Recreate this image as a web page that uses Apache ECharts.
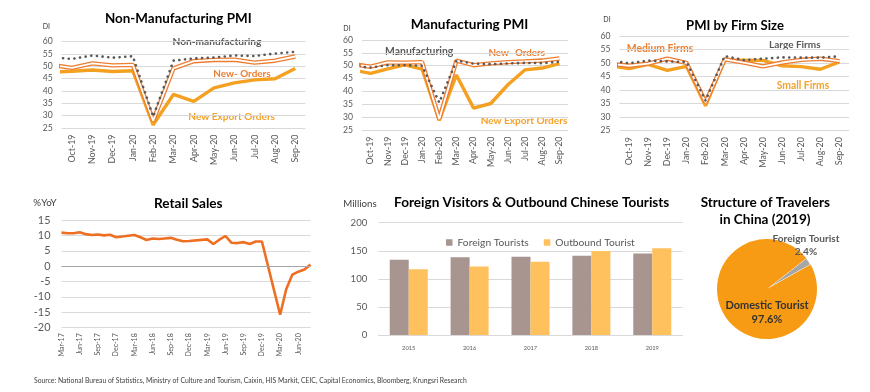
<!DOCTYPE html>
<html><head><meta charset="utf-8">
<script src="https://cdn.jsdelivr.net/npm/echarts@6/dist/echarts.min.js"></script>
<style>html,body{margin:0;padding:0;background:#fff}#c{width:870px;height:392px}</style>
</head><body><div id="c"></div>
<script>
// ---------- DATA ----------
// PMI panels: first entry (Sep-19) lies left of the plot edge and is clipped
const pmiMonths = ['Sep-19','Oct-19','Nov-19','Dec-19','Jan-20','Feb-20','Mar-20','Apr-20','May-20','Jun-20','Jul-20','Aug-20','Sep-20'];
const nmPMI       = [53.7, 53.0, 54.4, 53.5, 54.1, 29.6, 52.3, 53.2, 53.6, 54.4, 54.2, 55.2, 55.9];
const nmNewOrders = [50.6, 49.4, 51.2, 50.4, 50.6, 28.0, 49.2, 52.1, 52.6, 52.7, 51.5, 52.3, 54.0];
const nmExport    = [47.7, 48.0, 48.5, 47.9, 48.2, 26.3, 38.6, 35.8, 41.3, 43.3, 44.5, 45.0, 49.1];
const mPMI        = [49.8, 49.3, 50.2, 50.2, 50.0, 35.7, 52.0, 50.8, 50.6, 50.9, 51.1, 51.0, 51.5];
const mNewOrders  = [50.6, 49.6, 51.3, 51.2, 51.4, 29.3, 52.0, 50.2, 50.9, 51.4, 51.7, 52.0, 52.8];
const mExport     = [48.3, 47.0, 48.8, 50.3, 48.7, 28.7, 46.4, 33.5, 35.3, 42.6, 48.4, 49.1, 50.8];
const largeFirms  = [51.0, 49.9, 50.9, 50.6, 50.4, 36.1, 52.6, 51.1, 51.6, 52.1, 52.0, 52.0, 52.5];
const mediumFirms = [49.7, 49.0, 49.8, 51.6, 50.1, 35.5, 51.4, 50.2, 48.8, 50.2, 51.2, 51.6, 50.7];
const smallFirms  = [49.0, 48.0, 49.5, 47.3, 48.8, 34.2, 51.0, 51.1, 51.0, 49.0, 48.7, 47.7, 50.4];
const pmiTicks = [25, 30, 35, 40, 45, 50, 55, 60];

const retailMonths = ['Mar-17','Apr-17','May-17','Jun-17','Jul-17','Aug-17','Sep-17','Oct-17','Nov-17','Dec-17',
  'Jan-18','Feb-18','Mar-18','Apr-18','May-18','Jun-18','Jul-18','Aug-18','Sep-18','Oct-18','Nov-18','Dec-18',
  'Jan-19','Feb-19','Mar-19','Apr-19','May-19','Jun-19','Jul-19','Aug-19','Sep-19','Oct-19','Nov-19','Dec-19',
  'Jan-20','Feb-20','Mar-20','Apr-20','May-20','Jun-20','Jul-20','Aug-20'];
const retailSales = [10.9, 10.7, 10.7, 11.0, 10.4, 10.1, 10.3, 10.0, 10.2, 9.4,
  null, null, 10.1, 9.4, 8.5, 9.0, 8.8, 9.0, 9.2, 8.6, 8.1, 8.2,
  null, null, 8.7, 7.2, 8.6, 9.8, 7.6, 7.5, 7.8, 7.2, 8.0, 8.0,
  null, null, -15.8, -7.5, -2.8, -1.8, -1.1, 0.5];

const years = ['2015','2016','2017','2018','2019'];
const foreignTourists = [133.8, 138.4, 139.5, 141.2, 145.3];
const outboundTourists = [117.0, 122.0, 130.5, 149.7, 154.6];

const travelerNames = ['Foreign Tourist', 'Domestic Tourist'];
const travelerShares = [2.4, 97.6];

// ---------- STYLE HELPERS ----------
const FONT = 'Lato';
const cv = document.createElement('canvas').getContext('2d');
function fit(text, w, weight) {
  cv.font = (weight || 'normal') + ' 100px ' + FONT;
  return +(100 * w / cv.measureText(text).width).toFixed(2);
}
const GRID_C = '#D9D9D9', TXT = '#595959';
const C_DOT = '#595959', C_NEW = '#ED7D31', C_EXP = '#F4A020', C_RET = '#EE6E22';

const pmiX = fit('Oct-19', 28), pmiY = fit('60', 10);
const retX = fit('Mar-17', 23.3), retY = fit('-20', 16.7);
const barY = fit('200', 16.7), barX = fit('2015', 13.3), legFs = fit('Foreign Tourists', 71.3);

const pmiGrids = [
  {left: 61.8, width: 243.6, top: 41.7, height: 86.3},
  {left: 362, width: 206, top: 40, height: 90},
  {left: 619.5, width: 229.5, top: 36, height: 94.7}
];
const grids = pmiGrids.concat([
  {left: 61.5, width: 249, top: 220, height: 107.7},
  {left: 378.3, width: 304.4, top: 222.7, height: 112.3}
]);

const xAxes = [], yAxes = [], series = [];
pmiGrids.forEach((g, i) => {
  xAxes.push({type: 'value', gridIndex: i, min: -0.5, max: 11.5,
    axisLine: {show: false}, axisTick: {show: false}, splitLine: {show: false},
    axisLabel: {customValues: pmiMonths.slice(1).map((m, k) => k), formatter: v => pmiMonths[v + 1],
      rotate: 90, fontSize: pmiX, color: TXT, fontFamily: FONT, margin: 6.5}});
  yAxes.push({type: 'value', gridIndex: i, min: pmiTicks[0], max: pmiTicks[pmiTicks.length - 1], interval: 5,
    axisLine: {show: false}, axisTick: {show: false},
    splitLine: {lineStyle: {color: GRID_C, width: 1}},
    axisLabel: {fontSize: pmiY, color: TXT, fontFamily: FONT, margin: 9}});
});
function pts(arr) { return arr.map((v, k) => [k - 1, v]); }
function pmiSeries(i, dotted, dbl, solid) {
  const base = {type: 'line', xAxisIndex: i, yAxisIndex: i, showSymbol: false, symbol: 'none', silent: true};
  series.push(Object.assign({}, base, {data: pts(solid), lineStyle: {color: C_EXP, width: 3.4}, itemStyle: {color: C_EXP}}));
  series.push(Object.assign({}, base, {data: pts(dbl), lineStyle: {color: C_NEW, width: 4.4}, itemStyle: {color: C_NEW}}));
  series.push(Object.assign({}, base, {data: pts(dbl), lineStyle: {color: '#fff', width: 1.8}, itemStyle: {color: '#fff'}}));
  series.push(Object.assign({}, base, {data: pts(dotted), lineStyle: {color: C_DOT, width: 2.6, type: [0.1, 5.6], cap: 'round'}, itemStyle: {color: C_DOT}}));
}
pmiSeries(0, nmPMI, nmNewOrders, nmExport);
pmiSeries(1, mPMI, mNewOrders, mExport);
pmiSeries(2, largeFirms, mediumFirms, smallFirms);

// retail
xAxes.push({type: 'category', gridIndex: 3, data: retailMonths, boundaryGap: false,
  axisLine: {show: false}, axisTick: {show: false},
  axisLabel: {interval: 2, rotate: 90, fontSize: retX, color: TXT, fontFamily: FONT, margin: 5.5}});
yAxes.push({type: 'value', gridIndex: 3, min: -20, max: 15, interval: 5,
  axisLine: {show: false}, axisTick: {show: false},
  splitLine: {lineStyle: {color: GRID_C}},
  axisLabel: {fontSize: retY, color: TXT, fontFamily: FONT, margin: 11}});
series.push({type: 'line', xAxisIndex: 3, yAxisIndex: 3, data: retailSales, connectNulls: true,
  showSymbol: false, symbol: 'none', silent: true, lineStyle: {color: C_RET, width: 2.6}, itemStyle: {color: C_RET},
  markLine: {silent: true, symbol: 'none', label: {show: false}, lineStyle: {color: '#A6A6A6', type: 'solid', width: 1},
    data: [{yAxis: 0}]}, z: 3});

// bars
xAxes.push({type: 'category', gridIndex: 4, data: years,
  axisLine: {lineStyle: {color: GRID_C}}, axisTick: {show: false},
  axisLabel: {fontSize: barX, color: TXT, fontFamily: FONT, margin: 10}});
yAxes.push({type: 'value', gridIndex: 4, min: 0, max: 200, interval: 50,
  axisLine: {show: false}, axisTick: {show: false},
  splitLine: {lineStyle: {color: GRID_C}},
  axisLabel: {fontSize: barY, color: TXT, fontFamily: FONT, margin: 11}});
series.push({type: 'bar', name: 'Foreign Tourists', xAxisIndex: 4, yAxisIndex: 4, data: foreignTourists,
  barWidth: 19, barGap: '0%', itemStyle: {color: '#A8958F'}, silent: true});
series.push({type: 'bar', name: 'Outbound Tourist', xAxisIndex: 4, yAxisIndex: 4, data: outboundTourists,
  barWidth: 19, barGap: '0%', itemStyle: {color: '#FFC05E'}, silent: true});

// pie
const pieFsF = fit('Foreign Tourist', 67, 'bold'), pieFsD = fit('Domestic Tourist', 83.3, 'bold');
const pieColors = ['#A6A6A6', '#F79B14'];
series.push({type: 'pie', center: [767, 289], radius: 50, startAngle: 38, silent: true,
  labelLine: {show: false},
  data: travelerNames.map((n, k) => ({name: n, value: travelerShares[k],
    itemStyle: {color: pieColors[k], borderColor: '#fff', borderWidth: k === 0 ? 1 : 0},
    label: {show: true, position: 'center', fontFamily: FONT, fontWeight: 'bold',
      fontSize: k === 0 ? pieFsF : pieFsD, lineHeight: k === 0 ? 12.7 : 13.6,
      color: k === 0 ? '#595959' : '#333333',
      formatter: p => p.name + '\n' + p.value.toFixed(1) + '%'}})),
  labelLayout: p => p.dataIndex === 0 ? {dx: 39, dy: -44} : {dx: 0, dy: 23.5}
});

// ---------- TEXT ----------
const texts = [
  ['Non-Manufacturing PMI', 178.3, 19, 146.7, 'bold', '#000'],
  ['Manufacturing PMI', 469.5, 25, 117.7, 'bold', '#000'],
  ['PMI by Firm Size', 735, 26, 98, 'bold', '#000'],
  ['Retail Sales', 188.3, 203.3, 68.7, 'bold', '#000'],
  ['Foreign Visitors & Outbound Chinese Tourists', 531.7, 202.7, 275.3, 'bold', '#000'],
  ['Structure of Travelers', 765.3, 202.7, 129.3, 'bold', '#000'],
  ['in China (2019)', 765, 220, null, 'bold', '#000'],
  ['DI', 46.3, 26.7, 7.3, 'normal', '#404040'],
  ['DI', 347, 28.3, 7.3, 'normal', '#404040'],
  ['DI', 607, 20, 7.3, 'normal', '#404040'],
  ['%YoY', 45, 203.3, 23.3, 'normal', '#404040'],
  ['Millions', 360, 204, 33.3, 'normal', '#404040'],
  ['Non-manufacturing', 217, 41.7, 89, 'bold', '#595959'],
  ['New- Orders', 242, 74, 57.4, 'bold', C_NEW],
  ['New Export Orders', 231.7, 116.7, 86.7, 'bold', '#F4A22A'],
  ['Manufacturing', 419.2, 51.7, 68.3, 'bold', '#595959'],
  ['New- Orders', 516.7, 52.7, 56.7, 'bold', C_NEW],
  ['New Export Orders', 524, 121, 86.7, 'bold', '#F4A22A'],
  ['Medium Firms', 660, 48.3, 66.6, 'bold', C_NEW],
  ['Large Firms', 794.8, 44.3, 51.7, 'bold', '#595959'],
  ['Small Firms', 803, 85.3, 52.6, 'bold', '#F4A22A']
];
let lastFs = 12;
const graphic = texts.map(t => {
  const fs = t[3] ? fit(t[0], t[3], t[4]) : lastFs; lastFs = fs;
  return {type: 'text', x: t[1], y: t[2], silent: true,
    style: {text: t[0], fill: t[5], font: t[4] + ' ' + fs + 'px ' + FONT, align: 'center', verticalAlign: 'middle'}};
});
const srcText = 'Source: National Bureau of Statistics, Ministry of Culture and Tourism, Caixin, HIS Markit, CEIC, Capital Economics, Bloomberg, Krungsri Research';
graphic.push({type: 'text', x: 34, y: 380.7, silent: true,
  style: {text: srcText, fill: '#404040', font: 'normal ' + fit(srcText, 433) + 'px ' + FONT, align: 'left', verticalAlign: 'middle'}});

const chart = echarts.init(document.getElementById('c'), null, {renderer: 'canvas'});
chart.setOption({
  animation: false,
  backgroundColor: '#fff',
  textStyle: {fontFamily: FONT},
  grid: grids,
  xAxis: xAxes,
  yAxis: yAxes,
  legend: {data: ['Foreign Tourists', 'Outbound Tourist'], left: 441, top: 232.5, itemWidth: 6.5, itemHeight: 6.5,
    icon: 'rect', itemGap: 15, textStyle: {fontSize: legFs, color: TXT, fontFamily: FONT}, selectedMode: false},
  series: series,
  graphic: graphic
});
</script></body></html>
